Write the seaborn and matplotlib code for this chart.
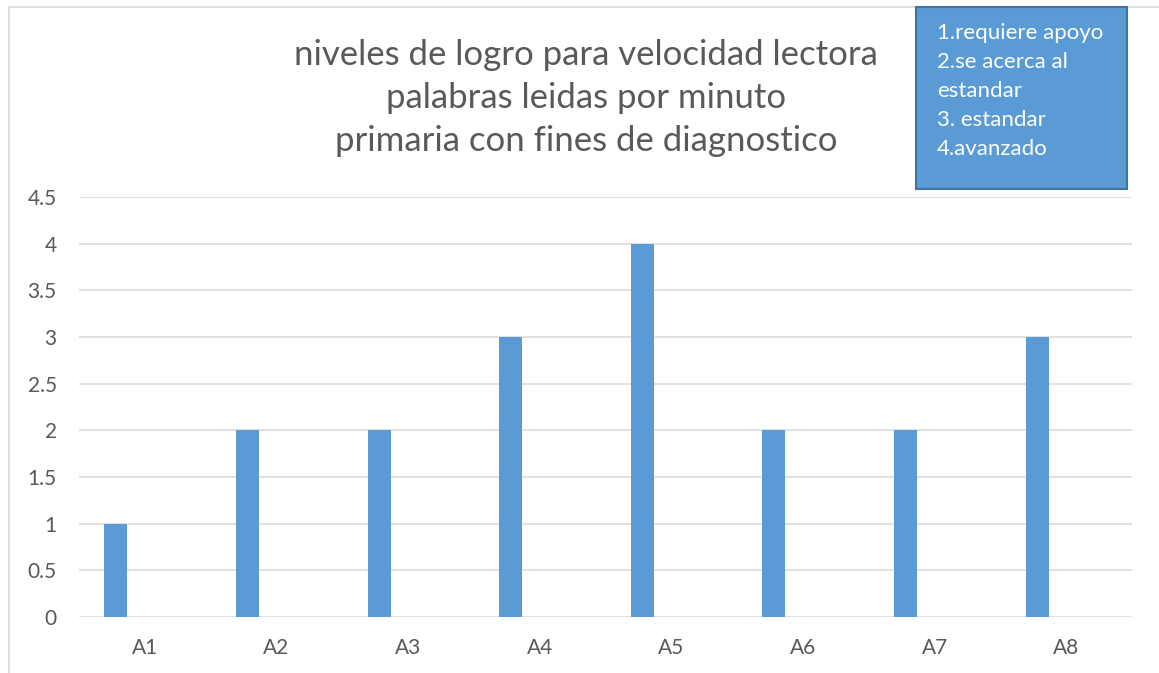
import numpy as np
import pandas as pd
import matplotlib
matplotlib.use("Agg")
import matplotlib.pyplot as plt
import seaborn as sns
from matplotlib.patches import Rectangle

# data
categories = ['A1', 'A2', 'A3', 'A4', 'A5', 'A6', 'A7', 'A8']
levels = [1, 2, 2, 3, 4, 2, 2, 3]
y_ticks = [0, 0.5, 1, 1.5, 2, 2.5, 3, 3.5, 4, 4.5]

title_lines = [
    'niveles de logro para velocidad lectora',
    'palabras leidas por minuto',
    'primaria con fines de diagnostico',
]
legend_lines = [
    '1.requiere apoyo',
    '2.se acerca al',
    'estandar',
    '3. estandar',
    '4.avanzado',
]

sns.set_theme(style='white')
plt.rcParams['font.family'] = ['Lato', 'DejaVu Sans']

BAR = '#5B9BD5'
TXT = '#595959'
GRID = '#D9D9D9'

W, H = 1159, 673
fig = plt.figure(figsize=(W / 100, H / 100), dpi=100)

# chart frame
fig.patches.append(Rectangle((9 / W, -0.1), 1.2, 1 - 7 / H + 0.1,
                             transform=fig.transFigure, fill=False,
                             edgecolor=GRID, linewidth=1.2))

ax = fig.add_axes([79 / W, 1 - 617 / H, (1132 - 79) / W, (617 - 197) / H])

df = pd.DataFrame({'cat': categories, 'nivel': levels})
sns.barplot(data=df, x='cat', y='nivel', color=BAR, width=0.175,
            saturation=1, linewidth=0, ax=ax, zorder=3)

# Excel places the single series left of the category centre
for p in ax.patches:
    p.set_x(p.get_x() - 0.22)

ax.set_xlim(-0.5, len(categories) - 0.5)
ax.set_ylim(0, 4.5)
ax.set_yticks(y_ticks)
ax.set_yticklabels([f'{t:g}' for t in y_ticks])
ax.yaxis.grid(True, color=GRID, linewidth=1.1, zorder=0)
ax.set_axisbelow(True)
for s in ax.spines.values():
    s.set_visible(False)
ax.tick_params(axis='y', length=0, pad=16, labelsize=15, labelcolor=TXT)
ax.tick_params(axis='x', length=0, pad=15, labelsize=15, labelcolor=TXT)
ax.set_xlabel('')
ax.set_ylabel('')

# title
for i, line in enumerate(title_lines):
    fig.text(586 / W, 1 - (55 + 43 * i) / H, line, ha='center', va='center',
             fontsize=25, color=TXT)

# text box legend
fig.patches.append(Rectangle((916 / W, 1 - 189 / H), (1127 - 916) / W, (189 - 7) / H,
                             transform=fig.transFigure, facecolor=BAR,
                             edgecolor='#41719C', linewidth=1.5, zorder=5))
for i, line in enumerate(legend_lines):
    fig.text(937 / W, 1 - (33 + 29 * i) / H, line, ha='left', va='center',
             fontsize=16, color='white', zorder=6)

fig.savefig('out.png', dpi=100)
